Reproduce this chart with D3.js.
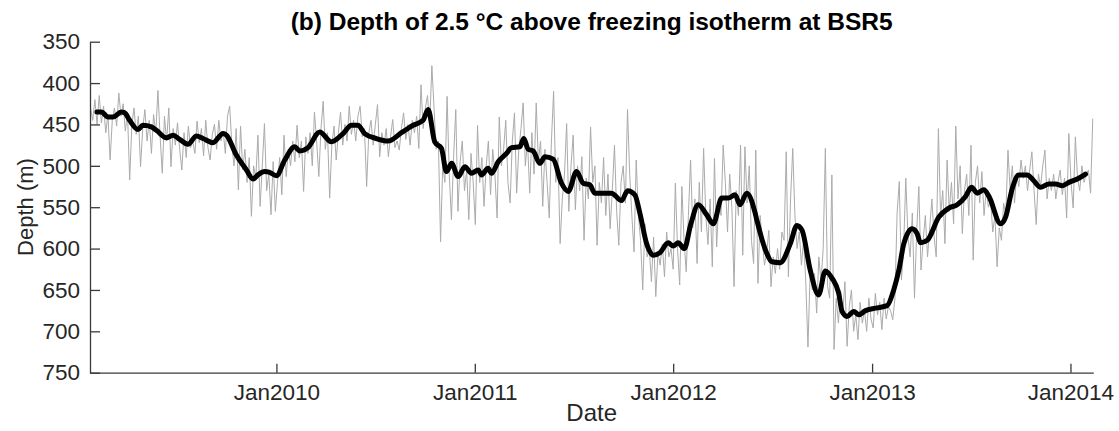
<!DOCTYPE html>
<html>
<head>
<meta charset="utf-8">
<script src="https://cdn.jsdelivr.net/npm/d3@7"></script>
<style>
  html, body { margin: 0; padding: 0; background: #fff; }
  svg { display: block; font-family: "Liberation Sans", Arial, Helvetica, sans-serif; }
</style>
</head>
<body>
<svg id="chart" width="1119" height="431"></svg>
<script>
// ---------------- data ----------------
const titleText = "(b) Depth of 2.5 \u00B0C above freezing isotherm at BSR5";
const xLabel = "Date";
const yLabel = "Depth (m)";
const yTicks = [350, 400, 450, 500, 550, 600, 650, 700, 750];
const xTickYears = [2010, 2011, 2012, 2013, 2014];
const xDomainStart = "2009-01-23";
const xDomainEnd = "2014-02-12";

// raw (noisy) series: regular 4-day sampling starting at grayStart
const grayStart = "2009-01-24";
const grayStepDays = 4;
const grayDepth = [
  430, 445, 420, 450,
  415, 448, 428, 460, 438, 493, 445, 430, 452,
  412, 440, 425, 458, 436, 517, 450, 430, 462,
  440, 501, 455, 432, 470, 445, 485, 438, 460,
  409, 465, 509, 440, 470, 430, 501, 455, 475,
  448, 480, 505, 460, 490, 452, 478, 470, 485,
  446, 472, 455, 488, 445, 478, 493, 462, 450, 480,
  445, 470, 458, 485, 440, 428, 475, 500, 455,
  529, 452, 505, 480, 520, 490, 561, 500, 515,
  463, 549, 500, 449, 530, 510, 559, 495, 555,
  // 2010
  520, 490, 535, 463, 513, 480, 500, 470, 495,
  451, 490, 470, 531, 465, 485, 460, 500, 435,
  470, 513, 455, 422, 480, 460, 539, 475, 452,
  493, 460, 435, 475, 450, 470, 428, 462, 445,
  470, 440, 428, 465, 455, 525, 460, 445, 475,
  450, 426, 489, 460, 475, 455, 489, 465, 444, 478,
  470, 481, 455, 436, 468, 450, 475, 445, 460,
  440, 479, 402, 455, 430, 415, 450, 379, 430,
  480, 470, 592, 500, 520, 416, 510, 565, 490,
  432, 555, 495, 470, 530, 505, 565, 485, 520,
  // 2011
  571, 451, 520, 490, 549, 500, 470, 535, 480,
  510, 563, 441, 500, 480, 445, 520, 545, 470,
  436, 533, 480, 455, 424, 500, 470, 533, 460,
  510, 424, 495, 470, 549, 480, 520, 563, 470,
  410, 520, 490, 594, 540, 510, 449, 555, 500,
  463, 553, 500, 530, 489, 590, 515, 540, 453, 520,
  500, 596, 520, 545, 490, 560, 510, 576, 530,
  475, 555, 596, 520, 500, 545, 432, 510, 560,
  604, 493, 560, 590, 650, 570, 610, 600, 640,
  586, 658, 605, 620, 595, 634, 580, 610, 600, 625,
  // 2012
  521, 600, 644, 525, 590, 628, 560, 493, 575,
  540, 618, 520, 580, 479, 560, 595, 540, 622,
  491, 598, 540, 560, 475, 520, 580, 510, 550,
  646, 530, 560, 475, 608, 477, 545, 500, 590,
  618, 481, 642, 560, 590, 620, 605, 578, 646,
  610, 630, 600, 625, 580, 590, 483, 634, 540,
  479, 560, 600, 580, 620, 590, 640, 719, 630,
  650, 630, 678, 610, 640, 600, 479, 645, 660,
  511, 722, 660, 690, 650, 680, 640, 718, 670,
  650, 700, 680, 710, 665, 690, 675, 700, 660, 685,
  // 2013
  696, 654, 680, 665, 698, 660, 685, 670, 675,
  686, 660, 557, 519, 638, 600, 515, 585, 610,
  557, 660, 580, 525, 626, 590, 560, 610, 575,
  540, 585, 610, 455, 560, 530, 594, 493, 555,
  520, 570, 452, 540, 500, 582, 530, 510, 560,
  475, 614, 520, 500, 545, 507, 560, 530, 550,
  540, 580, 560, 622, 575, 590, 545, 560, 481, 530,
  500, 545, 510, 525, 493, 515, 500, 530, 505,
  483, 530, 571, 510, 525, 500, 481, 540, 515,
  530, 510, 540, 520, 505, 535, 515, 563, 461,
  // 2014
  520, 551, 465, 515, 530, 500, 520, 510, 505, 533, 443
];

// smoothed series (decimal year, depth)
const smoothYear = [
  2009.095, 2009.118, 2009.151, 2009.176, 2009.218, 2009.235, 2009.260, 2009.302, 2009.327, 2009.370,
  2009.395, 2009.445, 2009.479, 2009.512, 2009.554, 2009.597, 2009.630, 2009.680, 2009.731, 2009.748,
  2009.798, 2009.849, 2009.882, 2009.907, 2009.941, 2009.966, 2010.000, 2010.042, 2010.092, 2010.118,
  2010.159, 2010.218, 2010.277, 2010.336, 2010.378, 2010.411, 2010.445, 2010.504, 2010.563, 2010.630,
  2010.689, 2010.739, 2010.765, 2010.798, 2010.832, 2010.857, 2010.883, 2010.916, 2010.950, 2010.983,
  2011.017, 2011.034, 2011.067, 2011.084, 2011.118, 2011.160, 2011.185, 2011.227, 2011.247, 2011.269,
  2011.294, 2011.328, 2011.353, 2011.395, 2011.437, 2011.471, 2011.513, 2011.546, 2011.580, 2011.605,
  2011.639, 2011.689, 2011.740, 2011.770, 2011.807, 2011.832, 2011.866, 2011.899, 2011.933, 2011.975,
  2012.000, 2012.025, 2012.056, 2012.089, 2012.126, 2012.168, 2012.202, 2012.244, 2012.277, 2012.311,
  2012.336, 2012.370, 2012.412, 2012.421, 2012.471, 2012.496, 2012.538, 2012.589, 2012.622, 2012.648,
  2012.689, 2012.731, 2012.765, 2012.799, 2012.832, 2012.849, 2012.874, 2012.908, 2012.933, 2012.967,
  2013.017, 2013.076, 2013.109, 2013.135, 2013.160, 2013.202, 2013.227, 2013.244, 2013.278, 2013.336,
  2013.387, 2013.429, 2013.471, 2013.501, 2013.530, 2013.563, 2013.589, 2013.648, 2013.673, 2013.707,
  2013.740, 2013.782, 2013.815, 2013.849, 2013.891, 2013.925, 2013.959, 2013.992, 2014.042, 2014.076
];
const smoothDepth = [
  435, 435, 441, 441, 435, 436, 445, 456, 451, 453,
  457, 466, 463, 468, 474, 464, 467, 472, 461, 463,
  487, 505, 516, 511, 507, 508, 512, 493, 477, 482,
  478, 459, 471, 461, 451, 451, 461, 467, 470, 460,
  451, 445, 432, 471, 479, 507, 497, 513, 501, 509,
  505, 511, 503, 509, 495, 485, 478, 477, 467, 480,
  482, 497, 489, 492, 521, 531, 507, 521, 523, 533,
  533, 533, 542, 530, 535, 557, 594, 608, 605, 593,
  597, 593, 600, 570, 547, 559, 570, 539, 539, 535,
  547, 533, 557, 566, 606, 616, 617, 594, 572, 578,
  626, 656, 627, 636, 654, 676, 682, 676, 680, 675,
  672, 669, 650, 626, 594, 576, 582, 593, 590, 562,
  551, 547, 537, 526, 533, 529, 537, 570, 562, 527,
  511, 511, 518, 526, 522, 522, 524, 520, 515, 510
];

// ---------------- helpers ----------------
function decYearToDate(v) {
  const yr = Math.floor(v);
  const a = new Date(yr, 0, 1), b = new Date(yr + 1, 0, 1);
  return new Date(a.getTime() + (v - yr) * (b - a));
}
const parse = d3.timeParse("%Y-%m-%d");
const g0 = parse(grayStart);
const grayData = grayDepth.map((v, i) => ({ date: d3.timeDay.offset(g0, i * grayStepDays), v }));
const smoothData = smoothYear.map((yv, i) => ({ date: decYearToDate(yv), v: smoothDepth[i] }));

// ---------------- layout ----------------
const svg = d3.select("#chart");
const M = { left: 90, right: 1093.3, top: 41.7, bottom: 372.7 };
const axisColor = "#3a3a3a", textColor = "#262626";

const x = d3.scaleTime().domain([parse(xDomainStart), parse(xDomainEnd)]).range([M.left, M.right]);
const y = d3.scaleLinear().domain([350, 750]).range([M.top, M.bottom]);

// lines
const line = d3.line().x(d => x(d.date)).y(d => y(d.v));
svg.append("path").datum(grayData)
  .attr("d", line).attr("fill", "none")
  .attr("stroke", "#ababab").attr("stroke-width", 1);
const smoothLine = d3.line().x(d => x(d.date)).y(d => y(d.v)).curve(d3.curveMonotoneX);
svg.append("path").datum(smoothData)
  .attr("d", smoothLine).attr("fill", "none")
  .attr("stroke", "#000").attr("stroke-width", 5)
  .attr("stroke-linejoin", "round").attr("stroke-linecap", "round");

// axes
const yAxis = d3.axisLeft(y).tickValues(yTicks).tickSizeInner(-10).tickSizeOuter(0).tickPadding(10);
const gy = svg.append("g").attr("transform", `translate(${M.left},0)`).call(yAxis);
const xAxis = d3.axisBottom(x)
  .tickValues(xTickYears.map(yr => new Date(yr, 0, 1)))
  .tickFormat(d3.timeFormat("%b%Y"))
  .tickSizeInner(-9).tickSizeOuter(0).tickPadding(11);
const gx = svg.append("g").attr("transform", `translate(0,${M.bottom})`).call(xAxis);

[gx, gy].forEach(g => {
  g.select(".domain").attr("stroke", axisColor).attr("stroke-width", 1.3);
  g.selectAll(".tick line").attr("stroke", axisColor).attr("stroke-width", 1.3);
  g.selectAll(".tick text").attr("fill", textColor)
    .style("font-size", "22.5px").style("font-family", "'Liberation Sans', Arial, sans-serif");
});

// labels
svg.append("text").attr("x", (M.left + M.right) / 2).attr("y", 30)
  .attr("text-anchor", "middle").attr("font-weight", "bold")
  .attr("font-size", 24.5).attr("fill", "#000").text(titleText);
svg.append("text").attr("x", (M.left + M.right) / 2).attr("y", 421)
  .attr("text-anchor", "middle").attr("font-size", 24).attr("fill", textColor).text(xLabel);
svg.append("text").attr("transform", "translate(33,207) rotate(-90)")
  .attr("text-anchor", "middle").attr("font-size", 22).attr("fill", textColor).text(yLabel);
</script>
</body>
</html>
